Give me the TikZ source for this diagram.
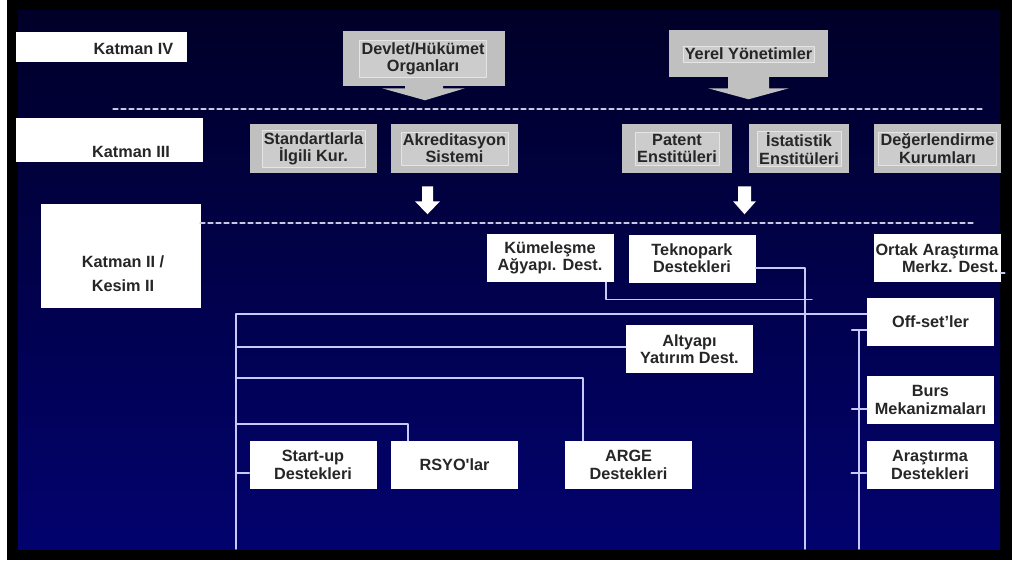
\documentclass[tikz,border=0pt]{standalone}
\usepackage{fontspec}
\setmainfont{Liberation Sans}
\usetikzlibrary{calc}

\definecolor{navytop}{RGB}{0,0,40}
\definecolor{navymid}{RGB}{0,0,92}
\definecolor{navybot}{RGB}{2,2,110}
\definecolor{boxgray}{RGB}{192,192,192}
\definecolor{innergray}{RGB}{204,204,204}
\definecolor{linelav}{RGB}{200,200,250}
\definecolor{dashgray}{RGB}{200,200,225}
\definecolor{txtgray}{RGB}{38,38,38}

\begin{document}
\begin{tikzpicture}[
  x=0.75pt, y=-0.75pt,
  line cap=round, line join=round,
  every node/.style={font=\fontsize{12.2}{13}\selectfont\bfseries, text=txtgray, align=center, inner sep=1pt},
  whitebox/.style={fill=white, minimum width=95.25pt, minimum height=36pt},
  graybox/.style={fill=boxgray, minimum width=95.25pt, minimum height=36.75pt},
  grayin/.style={fill=innergray, draw=white!80!gray, line width=0.4pt, inner sep=1.5pt},
  conn/.style={draw=linelav, line width=1.1pt},
  layerline/.style={draw=dashgray, line width=0.8pt, dash pattern=on 3.75pt off 2.25pt}
]
% çerçeve ve zemin
\useasboundingbox (0,0) rectangle (1012,563);
\fill[white] (0,0) rectangle (1012,563);
\fill[black] (7,0) rectangle (1012,560);
\shade[top color=navytop, middle color=navymid, bottom color=navybot] (18,11) rectangle (1000,549);

% katman etiketleri
\node[fill=white, minimum width=128.25pt, minimum height=22.5pt] (k4) at (101.5,47) {};
\node (k4-t) at (133.5,49) {Katman IV};
\node[fill=white, minimum width=140.25pt, minimum height=33pt] (k3) at (109.5,140) {};
\node (k3-t) at (131,152) {Katman III};
\node[fill=white, minimum width=120pt, minimum height=78pt] (k2) at (121,256) {};
\node (k2-t) at (123,274) {Katman II /\\[5pt]Kesim II};

% ayırıcı kesikli çizgiler
\draw[layerline] (113,109) -- (983,109);
\draw[layerline] (200,223) -- (973,223);

% Katman IV kutuları ve blok oklar
\node[graybox, minimum width=121.5pt, minimum height=41.25pt] (devlet) at (424,58.5) {};
\node[grayin] (devlet-t) at (423,59) {Devlet/Hükümet\\Organları};
\fill[boxgray] ($(devlet.south)+(-19,-1)$) -- ++(38,0) -- ++(0,3) -- ++(22,0)
  -- ++(-40,12) -- ++(-43,-12) -- ++(23,0) -- cycle;
\node[graybox, minimum width=119.25pt, minimum height=35.25pt] (yerel) at (748.5,53.5) {};
\node[grayin] (yerel-t) at (748.5,54) {Yerel Yönetimler};
\fill[boxgray] ($(yerel.south)+(-20.5,-1)$) -- ++(41,0) -- ++(0,12) -- ++(20,0)
  -- ++(-40.5,11) -- ++(-40.5,-11) -- ++(20,0) -- cycle;

% Katman III kutuları
\foreach \nm/\cx/\bw/\txt in {std/313.5/95.25pt/{Standartlarla\\İlgili Kur.},
    akr/454.5/95.25pt/{Akreditasyon\\Sistemi}, pat/677/82.5pt/{Patent\\Enstitüleri},
    ist/799/75pt/{İstatistik\\Enstitüleri}, deg/937.5/95.25pt/{Değerlendirme\\Kurumları}} {
  \node[graybox, minimum width=\bw] (\nm) at (\cx,148.5) {};
  \node[grayin] (\nm-t) at (\nm) {\txt};
}
\fill[white] ($(akr.south)+(-32.5,13)$) -- ++(11,0) -- ++(0,15) -- ++(7,0)
  -- ++(-12.5,13) -- ++(-12.5,-13) -- ++(7,0) -- cycle;
\fill[white] ($(ist.south)+(-61,13)$) -- ++(13,0) -- ++(0,15) -- ++(5,0)
  -- ++(-11.5,13) -- ++(-11.5,-13) -- ++(5,0) -- cycle;

% Katman II / Kesim II kutuları
\node[whitebox] (kum) at (550,258) {Kümeleşme\\Ağyapı. Dest.};
\node[whitebox] (tek) at (692,258.5) {Teknopark\\Destekleri};
\node[whitebox, align=right] (ortak) at (937,258) {Ortak Araştırma\\Merkz. Dest.};
\node[whitebox] (offset) at (930.5,322) {Off-set’ler};
\node[whitebox] (altyapi) at (689.5,349) {Altyapı\\Yatırım Dest.};
\node[whitebox] (burs) at (930.5,400) {Burs\\Mekanizmaları};
\node[whitebox] (arast) at (930,465) {Araştırma\\Destekleri};
\node[whitebox] (arge) at (628.5,465) {ARGE\\Destekleri};
\node[whitebox] (startup) at (313,465) {Start-up\\Destekleri};
\node[whitebox] (rsyo) at (454.5,465) {RSYO\textquotesingle lar};

% sol gövde ve dallar
\coordinate (ltop) at (236,314);
\coordinate (lbot) at (236,549);
\draw[conn] (lbot) -- (ltop) -- (ltop -| offset.west);
\draw[conn] ($(altyapi.west)+(0,-2)$) coordinate (aw) -- (aw -| ltop);
\draw[conn] ($(arge.north)+(-45.5,0)$) |- ($(ltop)+(0,64)$);
\draw[conn] ($(rsyo.north)+(-46.5,0)$) |- ($(ltop)+(0,110)$);
\draw[conn] ($(startup.west)+(0,8)$) coordinate (sw) -- (sw -| ltop);

% üst sıra bağlantıları
\coordinate (tbot) at (805,549);
\draw[conn] ($(kum.south)+(56,0)$) |- ++(206,17);
\draw[conn] ($(tek.east)+(0,9.5)$) -| (tbot);
\draw[conn] ($(ortak.east)+(0,15)$) -- ++(4,0);

% sağ gövde
\coordinate (rtop) at (859,330);
\coordinate (rbot) at (859,549);
\draw[conn] (rtop) -- (rbot);
\foreach \nm/\dy in {offset/8, burs/9, arast/8}
  \draw[conn] ($(\nm.west)+(-15,\dy)$) -- ($(\nm.west)+(0,\dy)$);
\end{tikzpicture}
\end{document}
